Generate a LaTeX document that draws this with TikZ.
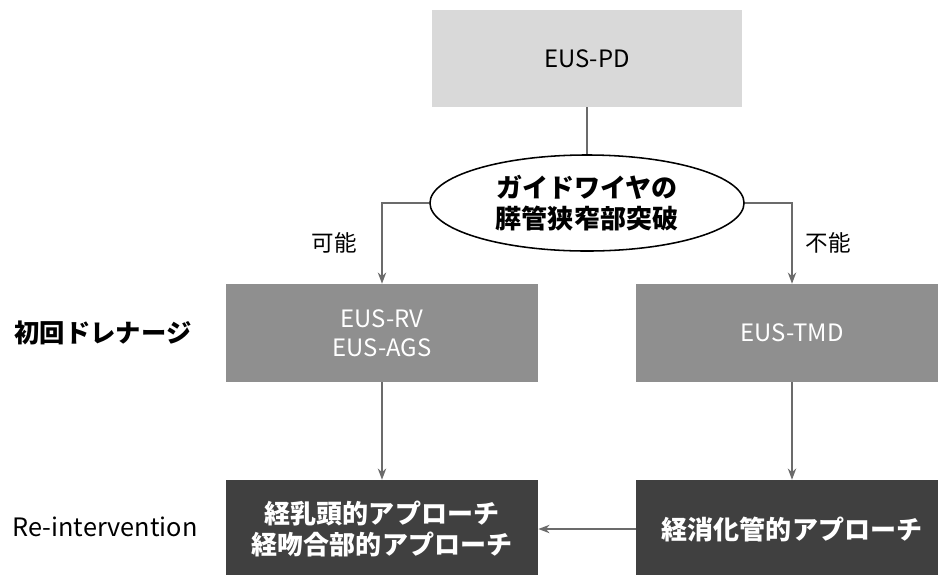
\documentclass[tikz,border=0pt]{standalone}
\usepackage{fontspec}
\setmainfont{Noto Sans CJK JP}
\usepackage{tikz}
\usetikzlibrary{shapes,arrows,positioning,calc,arrows.meta}

\definecolor{boxlight}{HTML}{D9D9D9}
\definecolor{boxmid}{HTML}{8F8F8F}
\definecolor{boxdark}{HTML}{404040}
\definecolor{linegray}{HTML}{6B6B6B}

\tikzset{
  stage/.style={minimum width=7.8cm, minimum height=2.45cm, align=center, inner sep=0pt,
    font=\fontsize{17}{21}\selectfont},
  topbox/.style={stage, fill=boxlight, minimum width=7.75cm, minimum height=2.43cm},
  midbox/.style={stage, fill=boxmid, text=white},
  lowbox/.style={stage, fill=boxdark, text=white, font=\bfseries\fontsize{18.5}{22}\selectfont},
  decide/.style={ellipse, draw=black, line width=1.1pt, minimum width=7.85cm, minimum height=2.4cm,
    inner sep=0pt, align=center, font=\bfseries\fontsize{18.5}{22}\selectfont},
  link/.style={draw=linegray, line width=1pt},
  arr/.style={link, -{Stealth[length=8pt,width=6pt]}},
  rowlabel/.style={font=\fontsize{18}{22}\selectfont},
  branch/.style={font=\fontsize{16}{20}\selectfont}
}

\begin{document}
\begin{tikzpicture}[x=0.025cm, y=-0.025cm]
  \useasboundingbox (0,0) rectangle (938,574);

  % Top
  \node[topbox] (pd) at (587,58.5) {EUS-PD};
  \node[decide] (wire) at (587,203) {ガイドワイヤの\\膵管狭窄部突破};

  % First drainage
  \node[midbox] (rv) at (382,333) {EUS-RV\\EUS-AGS};
  \node[midbox] (tmd) at (792,333) {EUS-TMD};

  % Re-intervention
  \node[lowbox] (pap) at (382,529) {経乳頭的アプローチ\\経吻合部的アプローチ};
  \node[lowbox] (gi) at (792,529) {経消化管的アプローチ};

  % Row labels
  \node[rowlabel, font=\bfseries\fontsize{18}{22}\selectfont] (first) at (103,333) {初回ドレナージ};
  \node[rowlabel] (re) at (105,527) {Re-intervention};

  % Connectors
  \draw[link] (pd) -- (wire);
  \draw[arr] (wire.west) -| (rv.north) node[branch, pos=0.75, left=14pt] (yes) {可能};
  \draw[arr] (wire.east) -| (tmd.north) node[branch, pos=0.75, right=6pt] (no) {不能};
  \draw[arr] (rv) -- (pap);
  \draw[arr] (tmd) -- (gi);
  \draw[arr] (gi) -- (pap);
\end{tikzpicture}
\end{document}
